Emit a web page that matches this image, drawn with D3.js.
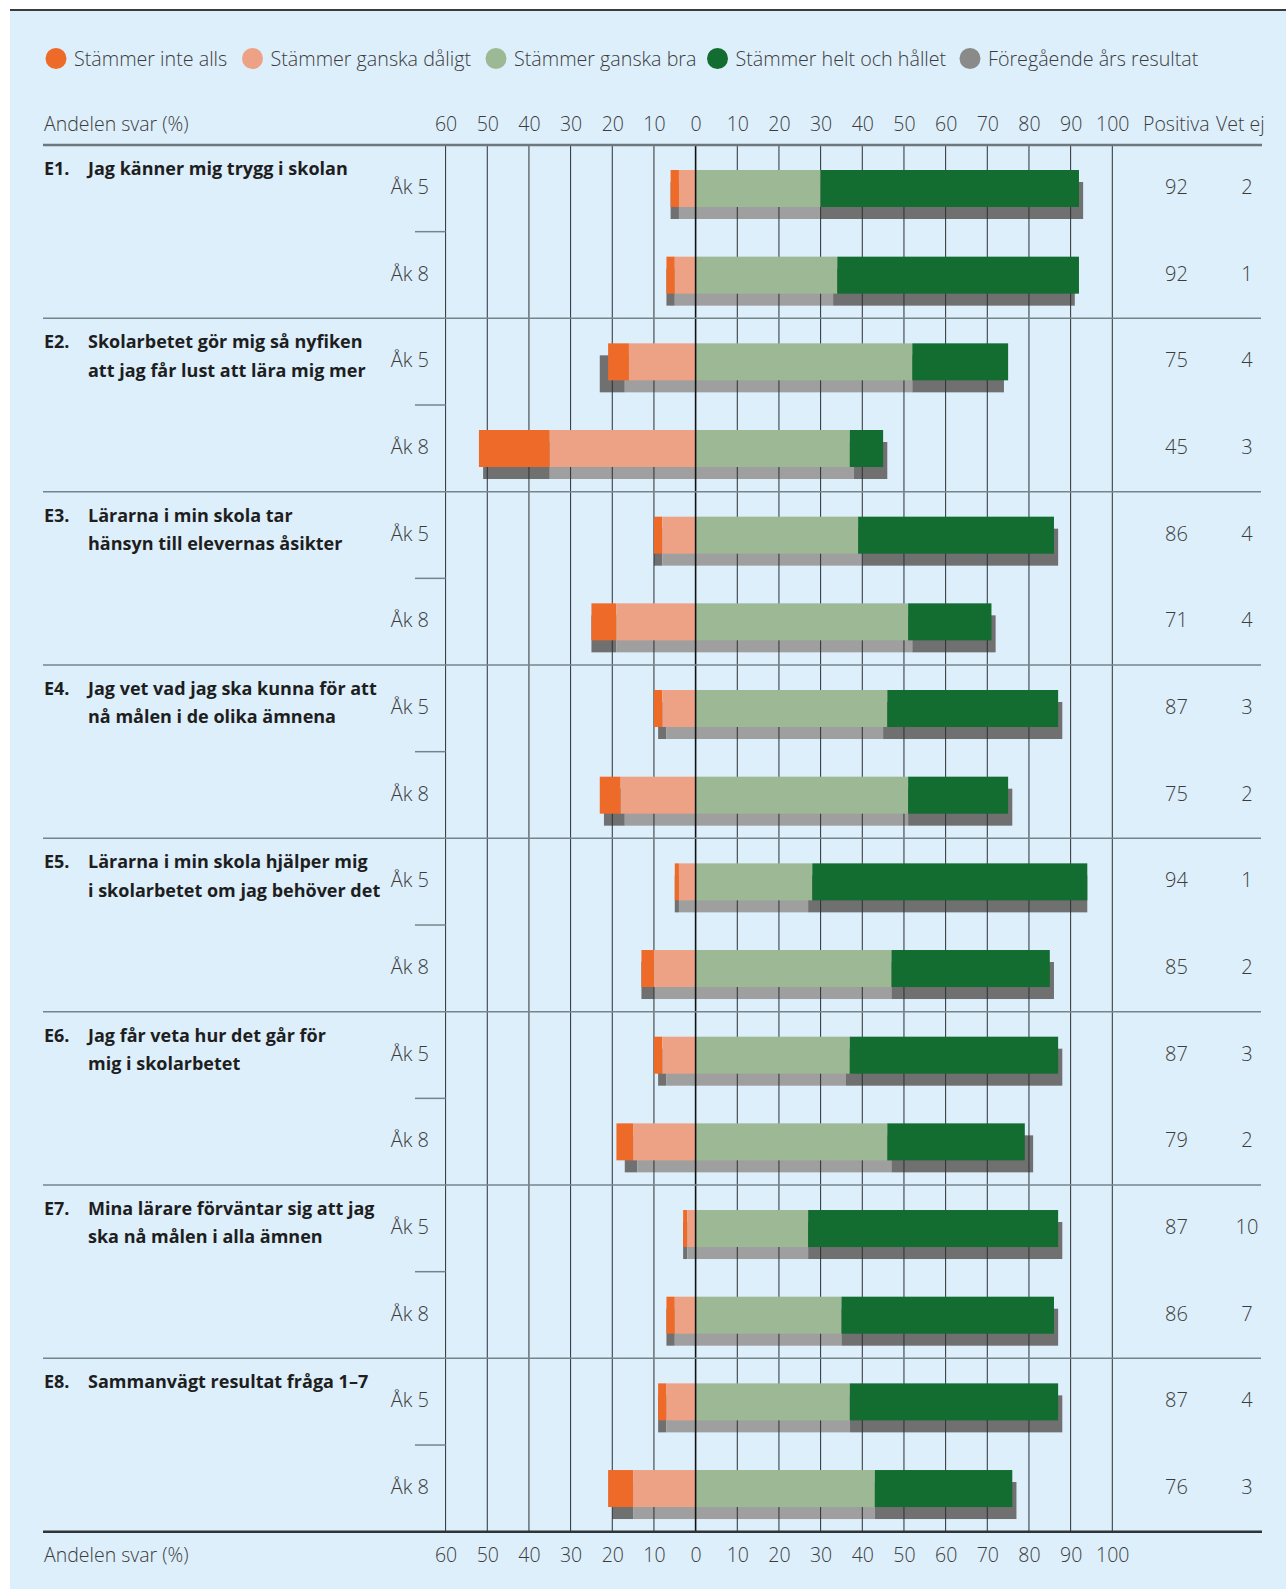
<!DOCTYPE html>
<html>
<head>
<meta charset="utf-8">
<script src="https://cdn.jsdelivr.net/npm/d3@7"></script>
<style>
  body { margin: 0; background: #fff; }
  svg { display: block; }
  text { font-family: "Open Sans", "Noto Sans", sans-serif; fill: #3c3c3c; }
  .light { font-weight: 300; }
  .q { font-weight: 700; fill: #1e1e1e; }
</style>
</head>
<body>
<svg id="chart" width="1286" height="1589"></svg>
<script>
// frågor och grupper
var codes = ["E1.", "E2.", "E3.", "E4.", "E5.", "E6.", "E7.", "E8."];
var questions = [
  ["Jag känner mig trygg i skolan"],
  ["Skolarbetet gör mig så nyfiken", "att jag får lust att lära mig mer"],
  ["Lärarna i min skola tar", "hänsyn till elevernas åsikter"],
  ["Jag vet vad jag ska kunna för att", "nå målen i de olika ämnena"],
  ["Lärarna i min skola hjälper mig", "i skolarbetet om jag behöver det"],
  ["Jag får veta hur det går för", "mig i skolarbetet"],
  ["Mina lärare förväntar sig att jag", "ska nå målen i alla ämnen"],
  ["Sammanvägt resultat fråga 1–7"]
];
var grades = ["Åk 5", "Åk 8"];

// svar i procent, en rad per fråga och årskurs (Åk 5, Åk 8, ...)
var inteAlls      = [2, 2, 5, 17, 2, 6, 2, 5, 1, 3, 2, 4, 1, 2, 2, 6];
var ganskaDaligt  = [4, 5, 16, 35, 8, 19, 8, 18, 4, 10, 8, 15, 2, 5, 7, 15];
var ganskaBra     = [30, 34, 52, 37, 39, 51, 46, 51, 28, 47, 37, 46, 27, 35, 37, 43];
var heltOchHallet = [62, 58, 23, 8, 47, 20, 41, 24, 66, 38, 50, 33, 60, 51, 50, 33];

// föregående års resultat
var prevInteAlls     = [2, 2, 6, 16, 2, 6, 2, 5, 1, 3, 2, 3, 1, 2, 2, 5];
var prevGanskaDaligt = [4, 5, 17, 35, 8, 19, 7, 17, 4, 10, 7, 14, 2, 5, 7, 15];
var prevGanskaBra    = [30, 33, 52, 38, 40, 52, 45, 51, 27, 47, 36, 47, 27, 35, 37, 43];
var prevHelt         = [63, 58, 22, 8, 47, 20, 43, 25, 67, 39, 52, 34, 61, 52, 51, 34];

var positiva = [92, 92, 75, 45, 86, 71, 87, 75, 94, 85, 87, 79, 87, 86, 87, 76];
var vetEj    = [2, 1, 4, 3, 4, 4, 3, 2, 1, 2, 3, 2, 10, 7, 4, 3];

var ticks = [-60, -50, -40, -30, -20, -10, 0, 10, 20, 30, 40, 50, 60, 70, 80, 90, 100];
var legendLabels = ["Stämmer inte alls", "Stämmer ganska dåligt", "Stämmer ganska bra",
                    "Stämmer helt och hållet", "Föregående års resultat"];

var colors = ["#ee6a29", "#eea285", "#9db894", "#136c30", "#8a8a8a"];
var shadowDark = "#707070", shadowLight = "#9f9f9f";

var svg = d3.select("#chart");

// bakgrund
svg.append("rect").attr("x", 10).attr("y", 11).attr("width", 1276).attr("height", 1578).attr("fill", "#ddeffb");
svg.append("line").attr("x1", 10).attr("x2", 1286).attr("y1", 10).attr("y2", 10)
  .attr("stroke", "#3b3b3b").attr("stroke-width", 2);

var plotTop = 145, plotBottom = 1531.7;
var x = d3.scaleLinear().domain([-60, 100]).range([445.6, 1112.3]);
var rowIds = d3.range(inteAlls.length);
var y = d3.scaleBand().domain(rowIds).range([plotTop, plotBottom]);
var groupY = d3.scaleBand().domain(d3.range(codes.length)).range([plotTop, plotBottom]);

// legend
var legendX = [56, 252.5, 496, 717.5, 970];
var lg = svg.append("g").selectAll("g").data(legendLabels).join("g")
  .attr("transform", function(d, i) { return "translate(" + legendX[i] + ",58.5)"; });
lg.append("circle").attr("r", 10.5).attr("fill", function(d, i) { return colors[i]; });
lg.append("text").attr("class", "light").attr("x", 18).attr("y", 7)
  .style("font-size", "19.7px").text(function(d) { return d; });

// stacka segment: negativa åt vänster, positiva åt höger
function segments(a, b, c, d) {
  return rowIds.map(function(i) {
    return [
      { x0: -(a[i] + b[i]), x1: -b[i], k: 0 },
      { x0: -b[i], x1: 0, k: 1 },
      { x0: 0, x1: c[i], k: 2 },
      { x0: c[i], x1: c[i] + d[i], k: 3 }
    ].map(function(s) { s.row = i; return s; });
  });
}
var cur = d3.merge(segments(inteAlls, ganskaDaligt, ganskaBra, heltOchHallet));
var prev = d3.merge(segments(prevInteAlls, prevGanskaDaligt, prevGanskaBra, prevHelt));

var barTop = 25, barH = 37, shadowOff = 12;

// föregående år (skugga)
svg.append("g").selectAll("rect").data(prev).join("rect")
  .attr("x", function(d) { return x(d.x0); })
  .attr("width", function(d) { return x(d.x1) - x(d.x0); })
  .attr("y", function(d) { return y(d.row) + barTop + shadowOff; })
  .attr("height", barH)
  .attr("fill", function(d) { return (d.k === 0 || d.k === 3) ? shadowDark : shadowLight; });

// rutnät
svg.append("g").selectAll("line").data(ticks.filter(function(t) { return t !== 0; })).join("line")
  .attr("x1", function(d) { return x(d); }).attr("x2", function(d) { return x(d); })
  .attr("y1", plotTop).attr("y2", plotBottom)
  .attr("stroke", "#2a3034").attr("stroke-width", 1);

// årets staplar
svg.append("g").selectAll("rect").data(cur).join("rect")
  .attr("x", function(d) { return x(d.x0); })
  .attr("width", function(d) { return x(d.x1) - x(d.x0); })
  .attr("y", function(d) { return y(d.row) + barTop; })
  .attr("height", barH)
  .attr("fill", function(d) { return colors[d.k]; });

// nollinje
svg.append("line").attr("x1", x(0)).attr("x2", x(0)).attr("y1", plotTop).attr("y2", plotBottom)
  .attr("stroke", "#111").attr("stroke-width", 1.6);

// horisontella linjer
svg.append("g").selectAll("line").data(d3.range(1, codes.length)).join("line")
  .attr("x1", 43).attr("x2", 1261)
  .attr("y1", function(d) { return groupY(d); }).attr("y2", function(d) { return groupY(d); })
  .attr("stroke", "#76858c").attr("stroke-width", 1.5);
svg.append("line").attr("x1", 43).attr("x2", 1262).attr("y1", plotTop).attr("y2", plotTop)
  .attr("stroke", "#6f777b").attr("stroke-width", 2.5);
svg.append("line").attr("x1", 43).attr("x2", 1262).attr("y1", plotBottom).attr("y2", plotBottom)
  .attr("stroke", "#2f3436").attr("stroke-width", 2.5);
// korta streck mellan årskurser
svg.append("g").selectAll("line").data(codes).join("line")
  .attr("x1", 415).attr("x2", x(-60))
  .attr("y1", function(d, i) { return groupY(i) + groupY.bandwidth() / 2; })
  .attr("y2", function(d, i) { return groupY(i) + groupY.bandwidth() / 2; })
  .attr("stroke", "#76858c").attr("stroke-width", 1.5);

// axlar
function axis(gen, ty) {
  var g = svg.append("g").attr("transform", "translate(0," + ty + ")")
    .call(gen.tickValues(ticks).tickSize(0).tickPadding(0).tickFormat(function(d) { return Math.abs(d); }));
  g.select(".domain").remove();
  g.selectAll("text").attr("class", "light").attr("dy", null).attr("y", 0)
    .style("font-family", null).style("font-size", "19.5px").attr("fill", "#3c3c3c");
  g.attr("font-family", null).attr("font-size", null);
}
axis(d3.axisTop(x), 131);
axis(d3.axisBottom(x), 1562);

svg.append("text").attr("class", "light").attr("x", 44).attr("y", 131).style("font-size", "19.5px").text("Andelen svar (%)");
svg.append("text").attr("class", "light").attr("x", 44).attr("y", 1562).style("font-size", "19.5px").text("Andelen svar (%)");
svg.append("text").attr("class", "light").attr("x", 1143).attr("y", 131).style("font-size", "19.5px").text("Positiva");
svg.append("text").attr("class", "light").attr("x", 1216).attr("y", 131).style("font-size", "19.5px").text("Vet ej");

// frågetexter
var qg = svg.append("g").selectAll("g").data(codes).join("g")
  .attr("transform", function(d, i) { return "translate(0," + groupY(i) + ")"; });
qg.append("text").attr("class", "q").attr("x", 44).attr("y", 30).style("font-size", "18px")
  .text(function(d) { return d; });
qg.each(function(d, i) {
  d3.select(this).selectAll("text.line").data(questions[i]).join("text")
    .attr("class", "q line").attr("x", 88)
    .attr("y", function(t, j) { return 30 + j * 28.4; })
    .style("font-size", "18px").text(function(t) { return t; });
});

// årskurs och siffror
var rows = svg.append("g").selectAll("g").data(rowIds).join("g")
  .attr("transform", function(d) { return "translate(0," + (y(d) + 49) + ")"; });
rows.append("text").attr("class", "light").attr("x", 429).attr("text-anchor", "end")
  .style("font-size", "20px").text(function(d) { return grades[d % 2]; });
rows.append("text").attr("class", "light").attr("x", 1176.5).attr("text-anchor", "middle")
  .style("font-size", "20px").text(function(d) { return positiva[d]; });
rows.append("text").attr("class", "light").attr("x", 1247).attr("text-anchor", "middle")
  .style("font-size", "20px").text(function(d) { return vetEj[d]; });
</script>
</body>
</html>
